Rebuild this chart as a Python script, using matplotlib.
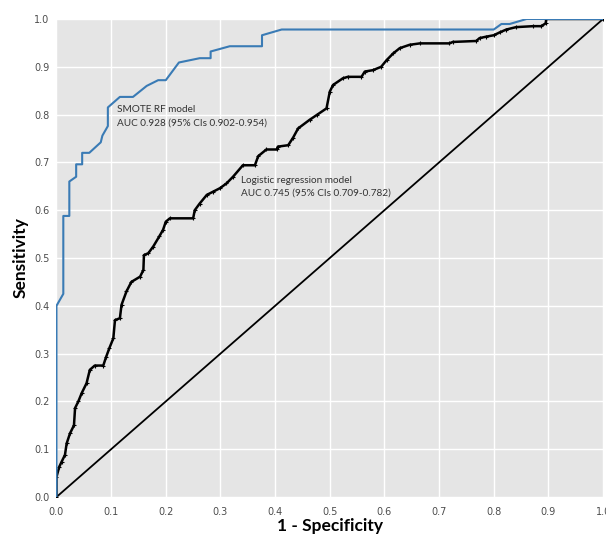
import matplotlib
matplotlib.use("Agg")
import matplotlib.pyplot as plt

# SMOTE RF model ROC curve (1 - specificity, sensitivity)
rf_fpr = [0.0, 0.0, 0.0125, 0.0125, 0.0235, 0.0235, 0.036, 0.036, 0.047, 0.047,
          0.06, 0.081, 0.084, 0.094, 0.094, 0.116, 0.14, 0.165, 0.186, 0.2,
          0.224, 0.262, 0.282, 0.282, 0.317, 0.376, 0.376, 0.412, 0.8, 0.814,
          0.829, 0.86, 1.0]
rf_tpr = [0.0, 0.40, 0.425, 0.588, 0.588, 0.66, 0.67, 0.696, 0.696, 0.72,
          0.72, 0.742, 0.756, 0.776, 0.815, 0.837, 0.837, 0.86, 0.872, 0.872,
          0.909, 0.918, 0.918, 0.932, 0.943, 0.943, 0.966, 0.978, 0.978, 0.9895,
          0.9895, 1.0, 1.0]

# Logistic regression model ROC curve
lr_fpr = [0.0, 0.0, 0.005, 0.0095, 0.0155, 0.0186, 0.0247, 0.032, 0.034, 0.04,
          0.046, 0.055, 0.061, 0.07, 0.0856, 0.0905, 0.0966, 0.104, 0.107, 0.116,
          0.119, 0.128, 0.137, 0.153, 0.159, 0.16, 0.168, 0.177, 0.188, 0.195,
          0.2, 0.2075, 0.25, 0.253, 0.262, 0.275, 0.287, 0.299, 0.311, 0.323,
          0.341, 0.363, 0.369, 0.384, 0.403, 0.405, 0.424, 0.433, 0.442, 0.463,
          0.476, 0.494, 0.5, 0.506, 0.524, 0.533, 0.558, 0.564, 0.579, 0.594,
          0.604, 0.616, 0.628, 0.646, 0.665, 0.719, 0.725, 0.768, 0.774, 0.786,
          0.8, 0.811, 0.823, 0.841, 0.872, 0.887, 0.895, 0.896, 1.0]
lr_tpr = [0.0, 0.042, 0.063, 0.074, 0.088, 0.112, 0.133, 0.15, 0.186, 0.2,
          0.217, 0.238, 0.266, 0.275, 0.275, 0.292, 0.311, 0.332, 0.37, 0.374,
          0.402, 0.43, 0.45, 0.461, 0.475, 0.506, 0.51, 0.524, 0.545, 0.559,
          0.576, 0.583, 0.583, 0.6, 0.614, 0.632, 0.639, 0.646, 0.656, 0.67,
          0.694, 0.694, 0.713, 0.727, 0.727, 0.733, 0.736, 0.752, 0.771, 0.789,
          0.799, 0.813, 0.848, 0.862, 0.876, 0.879, 0.879, 0.89, 0.893, 0.9,
          0.914, 0.928, 0.939, 0.946, 0.949, 0.949, 0.952, 0.954, 0.96, 0.963,
          0.966, 0.972, 0.978, 0.983, 0.985, 0.985, 0.991, 1.0, 1.0]

ticks = [0.0, 0.1, 0.2, 0.3, 0.4, 0.5, 0.6, 0.7, 0.8, 0.9, 1.0]
tick_labels = ["0.0", "0.1", "0.2", "0.3", "0.4", "0.5", "0.6", "0.7", "0.8", "0.9", "1.0"]

rf_label = "SMOTE RF model\nAUC 0.928 (95% CIs 0.902-0.954)"
lr_label = "Logistic regression model\nAUC 0.745 (95% CIs 0.709-0.782)"

fig = plt.figure(figsize=(6.06, 5.35), dpi=100)
ax = fig.add_axes([0.0932, 0.071, 0.902, 0.8935])
ax.set_facecolor("#E5E5E5")
ax.set_xlim(0, 1)
ax.set_ylim(0, 1)
ax.set_xticks(ticks)
ax.set_yticks(ticks)
ax.set_xticklabels(tick_labels)
ax.set_yticklabels(tick_labels)
ax.grid(True, color="white", linewidth=1.0)
ax.set_axisbelow(True)
for s in ax.spines.values():
    s.set_visible(False)
tick_font = ["Liberation Sans Narrow", "DejaVu Sans"]
ax.tick_params(axis="both", length=0, labelsize=7, labelcolor="#4D4D4D")
ax.tick_params(axis="x", pad=7)
ax.tick_params(axis="y", pad=5)
for lab in ax.get_xticklabels() + ax.get_yticklabels():
    lab.set_family(tick_font)

ax.plot([0, 1], [0, 1], color="black", linewidth=1.3)
ax.plot(lr_fpr, lr_tpr, color="black", linewidth=1.8, marker="+", markersize=2.5,
        markeredgewidth=0.8)
ax.plot(rf_fpr, rf_tpr, color="#3A7BB5", linewidth=1.5)

ax.text(0.110, 0.820, rf_label, fontsize=7.2, color="#333333", family="Lato",
        va="top", ha="left", linespacing=1.6)
ax.text(0.337, 0.672, lr_label, fontsize=7.2, color="#333333", family="Lato",
        va="top", ha="left", linespacing=1.6)

ax.set_xlabel("1 - Specificity", fontsize=12.5, fontweight="bold", family="Lato",
              labelpad=1)
ax.set_ylabel("Sensitivity", fontsize=12.5, fontweight="bold", family="Lato",
              labelpad=4)

fig.savefig("out.png", dpi=100)
